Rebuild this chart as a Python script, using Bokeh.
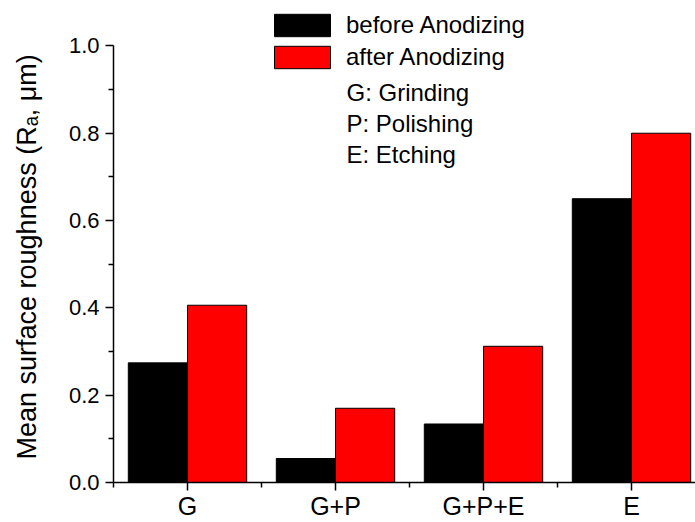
import numpy as np
from bokeh.plotting import figure
from bokeh.models import (Range1d, FixedTicker, PrintfTickFormatter, Legend,
                          LegendItem, Label, Title, ColumnDataSource)
from bokeh.embed import file_html
from bokeh.resources import INLINE

categories = ["G", "G+P", "G+P+E", "E"]
before = [0.274, 0.055, 0.134, 0.650]
after = [0.406, 0.170, 0.312, 0.800]
series_names = ["before Anodizing", "after Anodizing"]
notes = ["G: Grinding", "P: Polishing", "E: Etching"]
y_ticks = [0.0, 0.2, 0.4, 0.6, 0.8, 1.0]
y_minor = [0.1, 0.3, 0.5, 0.7, 0.9]
y_label = "Mean surface roughness (R\u2090, \u03bcm)"

FONT = "Liberation Sans"

xc = np.arange(len(categories)) + 0.5
src = ColumnDataSource(dict(cat=categories, x_before=xc - 0.2, x_after=xc + 0.2,
                            before=before, after=after))

p = figure(width=695, height=522, output_backend="svg", toolbar_location=None,
           x_range=Range1d(0, 582 / 148), y_range=Range1d(0, 483 / 437.5),
           min_border_left=113, min_border_right=0, min_border_top=0,
           min_border_bottom=39)

r1 = p.vbar(x="x_before", top="before", width=0.4, source=src,
            fill_color="#000000", line_color="#000000", line_width=1)
r2 = p.vbar(x="x_after", top="after", width=0.4, source=src,
            fill_color="#ff0000", line_color="#000000", line_width=1)

p.grid.visible = False
p.outline_line_color = None
p.background_fill_color = "white"
p.border_fill_color = "white"

# x axis
xa = p.xaxis[0]
xa.ticker = FixedTicker(ticks=list(xc), minor_ticks=list(np.arange(len(categories) + 1)))
xa.major_label_overrides = {float(x): c for x, c in zip(xc, categories)}
xa.major_tick_out = 8
xa.major_tick_in = 0
xa.minor_tick_out = 5
xa.minor_tick_in = 0
xa.axis_line_width = 1.5
xa.major_tick_line_width = 1.5
xa.minor_tick_line_width = 1.5
xa.major_label_text_font = FONT
xa.major_label_text_font_size = "25px"
xa.major_label_text_color = "black"
xa.major_label_standoff = 1

# y axis
ya = p.yaxis[0]
ya.ticker = FixedTicker(ticks=y_ticks, minor_ticks=y_minor)
ya.formatter = PrintfTickFormatter(format="%.1f")
ya.bounds = (0, 1)
ya.major_tick_out = 8
ya.major_tick_in = 0
ya.minor_tick_out = 5
ya.minor_tick_in = 0
ya.axis_line_width = 1.5
ya.major_tick_line_width = 1.5
ya.minor_tick_line_width = 1.5
ya.major_label_text_font = FONT
ya.major_label_text_font_size = "22px"
ya.major_label_text_color = "black"
ya.major_label_standoff = 6

# spacer between tick labels and the y axis title
p.add_layout(Title(text=" ", standoff=18, text_font_size="1px"), "left")
# y axis title, in the left border
p.add_layout(Title(text=y_label, align="left", offset=23, standoff=6,
                   text_font=FONT, text_font_size="27px",
                   text_font_style="normal", text_color="black"), "left")

legend = Legend(items=[LegendItem(label=series_names[0], renderers=[r1]),
                       LegendItem(label=series_names[1], renderers=[r2])],
                location=(154, 411), glyph_width=70, glyph_height=28,
                label_standoff=9, spacing=4, padding=0, margin=0,
                border_line_color=None, background_fill_alpha=0,
                label_text_font=FONT, label_text_font_size="24px",
                label_text_color="black", label_height=22)
p.add_layout(legend)

for i, t in enumerate(notes):
    p.add_layout(Label(x=233, y=390 - i * 31, x_units="screen", y_units="screen",
                       text=t, text_font=FONT, text_font_size="24px",
                       text_color="black", text_baseline="middle"))

open("out.html", "w").write(file_html(p, INLINE))
